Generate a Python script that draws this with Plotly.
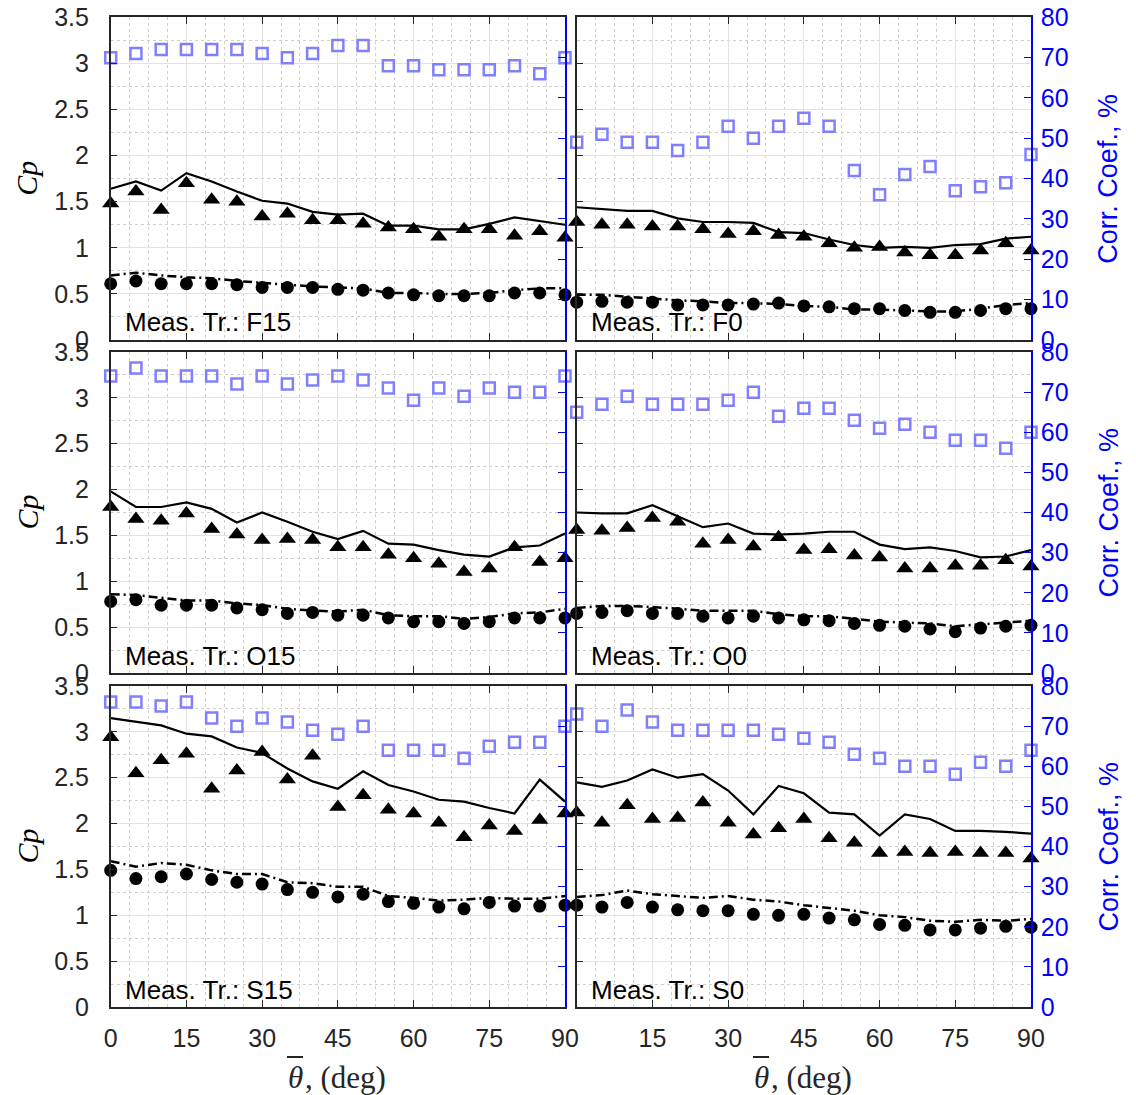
import plotly.graph_objects as go

# page body has an 8 px margin; figure is sized so it fits the 1136x1095 window
PAGE_W, PAGE_H = 1136, 1095
OFF = 8
W, H = PAGE_W - OFF, PAGE_H - OFF

theta = [0, 5, 10, 15, 20, 25, 30, 35, 40, 45, 50, 55, 60, 65, 70, 75, 80, 85, 90]
x_ticks = [0, 15, 30, 45, 60, 75, 90]
panel_names = ["F15", "F0", "O15", "O0", "S15", "S0"]

# ---- Meas. Tr.: F15 ----
F15_line = [1.64, 1.72, 1.62, 1.81, 1.72, 1.61, 1.51, 1.48, 1.39, 1.36, 1.37, 1.24, 1.24, 1.20, 1.20, 1.26, 1.33, 1.29, 1.25]
F15_dash = [0.70, 0.73, 0.70, 0.68, 0.67, 0.64, 0.62, 0.60, 0.58, 0.57, 0.56, 0.51, 0.51, 0.50, 0.50, 0.51, 0.54, 0.56, 0.56]
F15_tri = [1.48, 1.61, 1.41, 1.70, 1.52, 1.50, 1.34, 1.37, 1.30, 1.30, 1.26, 1.22, 1.20, 1.12, 1.20, 1.20, 1.13, 1.18, 1.11]
F15_circ = [0.61, 0.64, 0.61, 0.61, 0.61, 0.60, 0.57, 0.57, 0.57, 0.55, 0.54, 0.51, 0.49, 0.48, 0.48, 0.48, 0.51, 0.51, 0.49]
F15_corr = [70, 71, 72, 72, 72, 72, 71, 70, 71, 73, 73, 68, 68, 67, 67, 67, 68, 66, 70]

# ---- Meas. Tr.: F0 ----
F0_line = [1.44, 1.42, 1.40, 1.40, 1.32, 1.28, 1.28, 1.27, 1.17, 1.16, 1.09, 1.03, 1.00, 1.01, 1.00, 1.03, 1.04, 1.10, 1.12]
F0_dash = [0.49, 0.49, 0.47, 0.45, 0.43, 0.42, 0.40, 0.40, 0.39, 0.37, 0.36, 0.33, 0.33, 0.32, 0.31, 0.31, 0.34, 0.38, 0.40]
F0_tri = [1.28, 1.25, 1.25, 1.23, 1.23, 1.20, 1.15, 1.18, 1.14, 1.12, 1.05, 1.00, 1.01, 0.95, 0.92, 0.92, 0.97, 1.05, 0.97]
F0_circ = [0.41, 0.42, 0.41, 0.41, 0.38, 0.38, 0.38, 0.39, 0.40, 0.37, 0.36, 0.34, 0.34, 0.32, 0.30, 0.30, 0.32, 0.34, 0.34]
F0_corr = [49, 51, 49, 49, 47, 49, 53, 50, 53, 55, 53, 42, 36, 41, 43, 37, 38, 39, 46]

# ---- Meas. Tr.: O15 ----
O15_line = [1.98, 1.81, 1.81, 1.86, 1.79, 1.64, 1.75, 1.65, 1.54, 1.46, 1.55, 1.41, 1.40, 1.34, 1.29, 1.27, 1.37, 1.39, 1.52]
O15_dash = [0.86, 0.85, 0.82, 0.79, 0.79, 0.76, 0.74, 0.70, 0.68, 0.67, 0.69, 0.63, 0.62, 0.62, 0.59, 0.61, 0.65, 0.66, 0.70]
O15_tri = [1.81, 1.68, 1.66, 1.74, 1.57, 1.51, 1.45, 1.46, 1.45, 1.37, 1.37, 1.29, 1.25, 1.19, 1.10, 1.14, 1.37, 1.21, 1.25]
O15_circ = [0.78, 0.80, 0.74, 0.74, 0.74, 0.71, 0.69, 0.65, 0.66, 0.63, 0.63, 0.60, 0.56, 0.56, 0.54, 0.56, 0.60, 0.60, 0.60]
O15_corr = [74, 76, 74, 74, 74, 72, 74, 72, 73, 74, 73, 71, 68, 71, 69, 71, 70, 70, 74]

# ---- Meas. Tr.: O0 ----
O0_line = [1.75, 1.74, 1.74, 1.83, 1.71, 1.59, 1.63, 1.52, 1.51, 1.52, 1.54, 1.54, 1.40, 1.35, 1.37, 1.33, 1.26, 1.27, 1.34]
O0_dash = [0.71, 0.73, 0.73, 0.72, 0.70, 0.68, 0.68, 0.68, 0.64, 0.62, 0.62, 0.59, 0.56, 0.55, 0.54, 0.51, 0.53, 0.55, 0.57]
O0_tri = [1.56, 1.55, 1.58, 1.69, 1.65, 1.41, 1.45, 1.38, 1.48, 1.34, 1.35, 1.28, 1.26, 1.14, 1.14, 1.17, 1.17, 1.23, 1.16]
O0_circ = [0.65, 0.66, 0.68, 0.65, 0.65, 0.62, 0.60, 0.62, 0.60, 0.58, 0.57, 0.54, 0.52, 0.51, 0.48, 0.45, 0.49, 0.51, 0.52]
O0_corr = [65, 67, 69, 67, 67, 67, 68, 70, 64, 66, 66, 63, 61, 62, 60, 58, 58, 56, 60]

# ---- Meas. Tr.: S15 ----
S15_line = [3.15, 3.11, 3.07, 2.98, 2.95, 2.83, 2.77, 2.60, 2.46, 2.38, 2.57, 2.42, 2.35, 2.26, 2.24, 2.17, 2.11, 2.48, 2.24]
S15_dash = [1.59, 1.53, 1.57, 1.55, 1.49, 1.45, 1.45, 1.36, 1.35, 1.31, 1.31, 1.21, 1.19, 1.16, 1.17, 1.19, 1.18, 1.18, 1.21]
S15_tri = [2.94, 2.55, 2.69, 2.76, 2.38, 2.58, 2.78, 2.48, 2.74, 2.18, 2.31, 2.15, 2.11, 2.01, 1.85, 1.98, 1.92, 2.04, 2.11]
S15_circ = [1.49, 1.40, 1.42, 1.45, 1.39, 1.36, 1.34, 1.28, 1.25, 1.20, 1.23, 1.15, 1.13, 1.09, 1.07, 1.14, 1.10, 1.10, 1.11]
S15_corr = [76, 76, 75, 76, 72, 70, 72, 71, 69, 68, 70, 64, 64, 64, 62, 65, 66, 66, 70]

# ---- Meas. Tr.: S0 ----
S0_line = [2.45, 2.40, 2.47, 2.59, 2.50, 2.54, 2.36, 2.10, 2.41, 2.33, 2.12, 2.10, 1.87, 2.10, 2.05, 1.92, 1.92, 1.91, 1.89]
S0_dash = [1.20, 1.22, 1.27, 1.23, 1.21, 1.19, 1.21, 1.17, 1.15, 1.11, 1.08, 1.05, 1.00, 0.98, 0.94, 0.93, 0.95, 0.94, 0.96]
S0_tri = [2.12, 2.01, 2.20, 2.05, 2.06, 2.23, 2.01, 1.88, 1.95, 2.05, 1.84, 1.79, 1.68, 1.69, 1.68, 1.69, 1.68, 1.68, 1.62]
S0_circ = [1.11, 1.09, 1.14, 1.09, 1.06, 1.05, 1.05, 1.01, 1.00, 1.01, 0.97, 0.95, 0.90, 0.89, 0.84, 0.84, 0.86, 0.88, 0.87]
S0_corr = [73, 70, 74, 71, 69, 69, 69, 69, 68, 67, 66, 63, 62, 60, 60, 58, 61, 60, 64]

panel_data = {
    "F15": (F15_line, F15_dash, F15_tri, F15_circ, F15_corr),
    "F0": (F0_line, F0_dash, F0_tri, F0_circ, F0_corr),
    "O15": (O15_line, O15_dash, O15_tri, O15_circ, O15_corr),
    "O0": (O0_line, O0_dash, O0_tri, O0_circ, O0_corr),
    "S15": (S15_line, S15_dash, S15_tri, S15_circ, S15_corr),
    "S0": (S0_line, S0_dash, S0_tri, S0_circ, S0_corr),
}

# layout geometry (page pixels)
col_px = [(110.7, 565.0), (576.7, 1031.0)]
row_px = [(17.3, 340.0), (352.0, 673.0), (686.0, 1007.0)]


def px(xp):
    return (xp - OFF) / W


def py(yp):
    return 1 - (yp - OFF) / H


SANS = "Liberation Sans, Arial, sans-serif"
SERIF = "Liberation Serif, DejaVu Serif, serif"
TICK_COLOR = "#262626"
BLUE = "#0000ff"
SQ_BLUE = "#8080ff"
GRID = "#e3e3e3"
MINOR_GRID = "#cfcfcf"

fig = go.Figure()
layout = {}
annotations = []
shapes = []

for i, name in enumerate(panel_names):
    r, c = divmod(i, 2)
    n = i + 1
    xa = "x" if n == 1 else f"x{n}"
    ya = "y" if n == 1 else f"y{n}"
    ya2 = f"y{n + 6}"
    line, dash, tri, circ, corr = panel_data[name]

    fig.add_trace(go.Scatter(x=theta, y=corr, mode="markers", xaxis=xa, yaxis=ya2,
                             marker=dict(symbol="square-open", size=11, color=SQ_BLUE,
                                         line=dict(width=2.5, color=SQ_BLUE)),
                             cliponaxis=False, showlegend=False))
    fig.add_trace(go.Scatter(x=theta, y=line, mode="lines", xaxis=xa, yaxis=ya,
                             line=dict(color="black", width=2.2), showlegend=False))
    fig.add_trace(go.Scatter(x=theta, y=dash, mode="lines", xaxis=xa, yaxis=ya,
                             line=dict(color="black", width=2.5, dash="9px,4px,2px,4px"),
                             showlegend=False))
    fig.add_trace(go.Scatter(x=theta, y=tri, mode="markers", xaxis=xa, yaxis=ya,
                             marker=dict(symbol="triangle-up", size=15, color="black"),
                             cliponaxis=False, showlegend=False))
    fig.add_trace(go.Scatter(x=theta, y=circ, mode="markers", xaxis=xa, yaxis=ya,
                             marker=dict(symbol="circle", size=13, color="black"),
                             cliponaxis=False, showlegend=False))

    x0, x1 = col_px[c]
    t, b = row_px[r]
    xdom = [px(x0), px(x1)]
    ydom = [py(b), py(t)]
    bottom = (r == 2)

    if c == 0:
        xtext = [str(v) for v in x_ticks]
    else:
        xtext = [""] + [str(v) for v in x_ticks[1:]]

    layout["xaxis" if n == 1 else f"xaxis{n}"] = dict(
        domain=xdom, anchor=ya, range=[0, 90], automargin=False,
        tickmode="array", tickvals=x_ticks, ticktext=xtext,
        showticklabels=bottom, ticks="inside", ticklen=7, tickwidth=1, tickcolor="#262626",
        ticklabelstandoff=8, ticklabeloverflow="allow",
        showline=True, linecolor="#262626", linewidth=1.5, mirror="ticks",
        showgrid=True, gridcolor=GRID, gridwidth=1, zeroline=False,
        minor=dict(dtick=3.75, tick0=0, showgrid=True, gridcolor=MINOR_GRID,
                   griddash="dot", gridwidth=1, ticks=""),
        tickfont=dict(family=SANS, size=25, color=TICK_COLOR),
    )
    layout["yaxis" if n == 1 else f"yaxis{n}"] = dict(
        domain=ydom, anchor=xa, range=[0, 3.5], dtick=0.5, tick0=0, automargin=False,
        showticklabels=(c == 0), ticks="inside", ticklen=7, tickcolor="#262626",
        ticklabelstandoff=15, ticklabeloverflow="allow",
        showline=True, linecolor="#262626", linewidth=1.5, mirror=False,
        showgrid=True, gridcolor=GRID, gridwidth=1, zeroline=False,
        minor=dict(dtick=0.25, tick0=0, showgrid=True, gridcolor=MINOR_GRID,
                   griddash="dot", gridwidth=1, ticks=""),
        tickfont=dict(family=SANS, size=25, color=TICK_COLOR),
    )
    layout[f"yaxis{n + 6}"] = dict(
        overlaying=ya, anchor=xa, side="right", range=[0, 80], dtick=10, tick0=0,
        automargin=False,
        showticklabels=(c == 1), ticks="inside", ticklen=7, tickcolor=BLUE,
        ticklabelstandoff=3, ticklabeloverflow="allow",
        showline=True, linecolor=BLUE, linewidth=1.5,
        showgrid=False, zeroline=False,
        tickfont=dict(family=SANS, size=25, color=BLUE),
    )

    annotations.append(dict(x=2.4, y=0.19, xref=xa, yref=ya, xanchor="left", yanchor="middle",
                            text=f"Meas. Tr.: {name}", showarrow=False,
                            font=dict(family=SANS, size=26, color="black")))

    if c == 0:
        annotations.append(dict(x=px(27), y=py((t + b) / 2), xref="paper", yref="paper",
                                text="<i>Cp</i>", textangle=-90, showarrow=False,
                                xanchor="center", yanchor="middle",
                                font=dict(family=SERIF, size=30, color="black")))
    else:
        annotations.append(dict(x=px(1108), y=py((t + b) / 2), xref="paper", yref="paper",
                                text="Corr. Coef., %", textangle=-90, showarrow=False,
                                xanchor="center", yanchor="middle",
                                font=dict(family=SANS, size=27, color=BLUE)))
    if bottom:
        off = x0 - col_px[0][0]
        # theta glyph
        annotations.append(dict(x=px(295 + off), y=py(1077), xref="paper", yref="paper",
                                text="<i>θ</i>", showarrow=False,
                                xanchor="center", yanchor="middle",
                                font=dict(family=SERIF, size=31, color=TICK_COLOR)))
        annotations.append(dict(x=px(303 + off), y=py(1077), xref="paper", yref="paper",
                                text=", (deg)", showarrow=False,
                                xanchor="left", yanchor="middle",
                                font=dict(family=SERIF, size=31, color=TICK_COLOR)))
        # overbar on theta
        shapes.append(dict(type="line", xref="paper", yref="paper",
                           x0=px(287 + off), x1=px(303 + off),
                           y0=py(1057), y1=py(1057),
                           line=dict(color=TICK_COLOR, width=2)))

fig.update_layout(
    width=W, height=H,
    margin=dict(l=0, r=0, t=0, b=0),
    paper_bgcolor="white", plot_bgcolor="white",
    annotations=annotations,
    shapes=shapes,
    **layout,
)

fig.write_html("out.html")
